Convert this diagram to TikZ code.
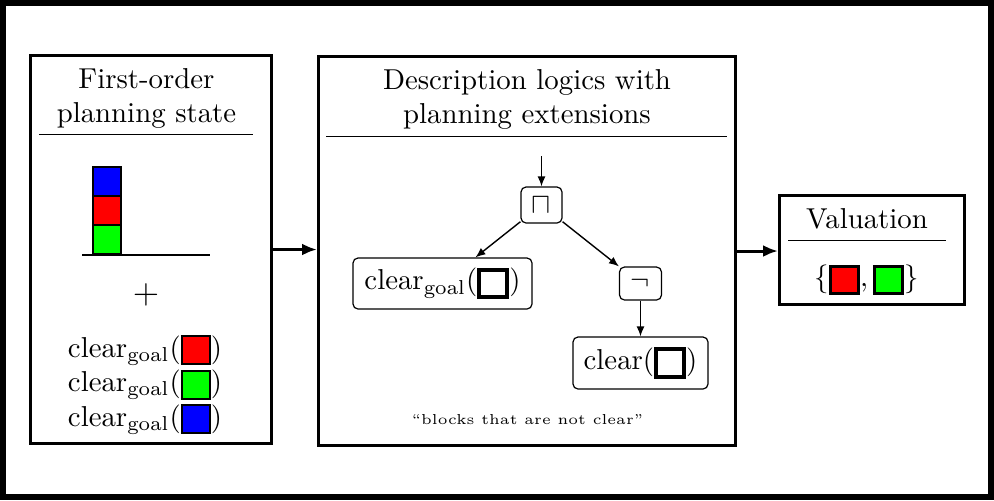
\documentclass[tikz,border=0pt]{standalone}
\usepackage{graphicx}
\usetikzlibrary{arrows.meta}
\newcommand\sk[1]{\scalebox{1.44}{#1}}
\newcommand\colsq[1]{\raisebox{-2.1pt}{\setlength\fboxsep{0pt}\setlength\fboxrule{0.7pt}\fcolorbox{black}{#1}{\rule{0pt}{9pt}\rule{9pt}{0pt}}}}
\newcommand\valsq[1]{\raisebox{-2.1pt}{\setlength\fboxsep{0pt}\setlength\fboxrule{1pt}\fcolorbox{black}{#1}{\rule{0pt}{8.4pt}\rule{8.8pt}{0pt}}}}
\newcommand\emsq{\raisebox{-2pt}{\setlength\fboxsep{0pt}\setlength\fboxrule{1.4pt}\fcolorbox{black}{white}{\rule{0pt}{8.3pt}\rule{8.3pt}{0pt}}}}
\tikzset{
  panel/.style={draw, line width=1.5pt, inner sep=0pt},
  tn/.style={draw, rounded corners=2.5pt, inner sep=0pt, line width=0.6pt},
  ta/.style={-{Latex[length=5pt,width=4pt]}, line width=0.7pt},
  big/.style={-{Latex[length=7.5pt,width=6pt]}, line width=1.5pt},
  rulel/.style={line width=0.5pt},
  blk/.style={draw, line width=1pt}
}
\begin{document}
\begin{tikzpicture}[x=0.5pt,y=-0.5pt]
\useasboundingbox (0,0) rectangle (994,500);
\draw[line width=3pt] (3,3) rectangle (990.5,496.5);
% panels
\node[panel, minimum width=120.5pt, minimum height=194pt] (b1) at (151,249.5) {};
\node[panel, minimum width=208.5pt, minimum height=194.5pt] (b2) at (527,251) {};
\node[panel, minimum width=92.5pt, minimum height=54.5pt] (b3) at (872,250) {};
% titles
\node[anchor=base] (t1) at (146.5,88) {\sk{\begin{tabular}[t]{@{}c@{}}First-order\\planning state\end{tabular}}};
\node[anchor=base] (t2) at (527,89) {\sk{\begin{tabular}[t]{@{}c@{}}Description logics with\\planning extensions\end{tabular}}};
\node[anchor=base] (t3) at (867,228) {\sk{Valuation}};
\draw[rulel] (39,134) -- (253,134);
\draw[rulel] (326,136) -- (727,136);
\draw[rulel] (788,240) -- (946,240);
% block stack
\draw[blk, fill=green] (93,225) rectangle (121,254);
\draw[blk, fill=red] (93,196) rectangle (121,225);
\draw[blk, fill=blue] (93,167) rectangle (121,196);
\draw[line width=1.2pt] (82,255) -- (210,255);
\node[anchor=base] (plus) at (146,303) {\sk{\large$+$}};
\node[anchor=base] (goals) at (145,357) {\sk{\begin{tabular}[t]{@{}c@{}}clear$_{\mathrm{goal}}$(\colsq{red})\\clear$_{\mathrm{goal}}$(\colsq{green})\\clear$_{\mathrm{goal}}$(\colsq{blue})\end{tabular}}};
% tree
\coordinate (in) at (541.5,156);
\node[tn, minimum width=20.5pt, minimum height=18pt] (and) at (541.5,205) {\sk{$\sqcap$}};
\node[tn, minimum width=89.5pt, minimum height=25.5pt] (cg) at (442.5,283.5) {\sk{clear$_{\mathrm{goal}}$(\emsq)}};
\node[tn, minimum width=21pt, minimum height=16.5pt] (neg) at (640.5,283.5) {\sk{$\neg$}};
\node[tn, minimum width=67.5pt, minimum height=26pt] (cl) at (640.5,363) {\sk{clear(\emsq)}};
\draw[ta] (in) -- (and);
\draw[ta] (and) -- (cg);
\draw[ta] (and) -- (neg);
\draw[ta] (neg) -- (cl);
\node[anchor=base] (cap) at (527.5,424) {\sk{\tiny “blocks that are not clear”}};
% valuation
\node[anchor=base] (val) at (866.5,286) {\sk{$\{$\valsq{red}$,\,$\valsq{green}$\}$}};
% connectors
\draw[big] (b1.east) -- (b1.east -| b2.west);
\draw[big] (b2.east) -- (b2.east -| b3.west);
\end{tikzpicture}
\end{document}
